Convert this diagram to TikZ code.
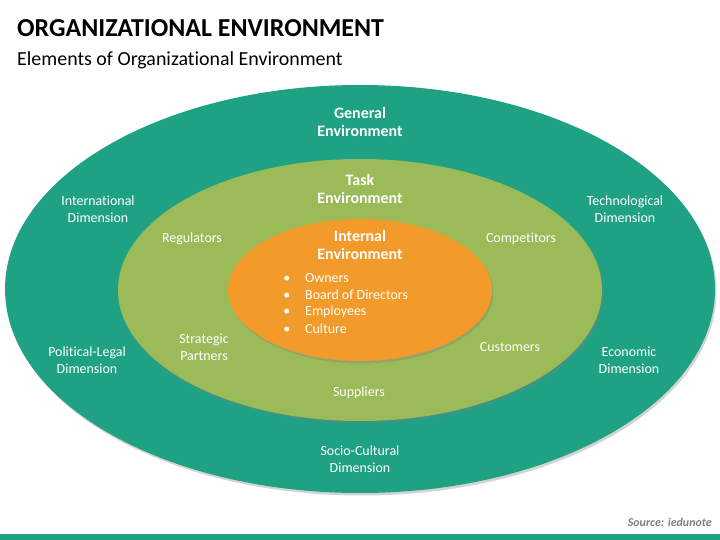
\documentclass[tikz,border=0pt]{standalone}
\usepackage{fontspec}
\setmainfont{Carlito}[Ligatures=NoCommon]
\usetikzlibrary{shapes.geometric,shadows}
\definecolor{envteal}{HTML}{1FA184}
\definecolor{envgreen}{HTML}{9BBB59}
\definecolor{envorange}{HTML}{F39B2A}
\definecolor{srcgray}{HTML}{7F7F7F}
\tikzset
 {ring/.style =                         % one filled ellipse of the diagram
   {ellipse, inner sep=0pt, draw=none, fill=#1,
    drop shadow = {opacity=0.35, shadow xshift=1.5pt, shadow yshift=-2.5pt}
   },
  label/.style =          % white text inside the rings, e.g. the dimensions
   {text=white, align=center, inner sep=0pt,
    font=\fontsize{14}{17}\selectfont},
  head/.style =                         % bold heading of each environment
   {label, font=\fontsize{16}{19}\selectfont\bfseries}
 }

\begin{document}
\begin{tikzpicture}[x=1bp, y=-1bp]
    \useasboundingbox (0,0) rectangle (720,540);
    \fill[envteal] (0,534) rectangle (720,540);
    % title
    \node[anchor=base west, inner sep=0pt, font=\fontsize{26}{30}\selectfont\bfseries]
        (title) at (17,37) {ORGANIZATIONAL ENVIRONMENT};
    \node[anchor=base west, inner sep=0pt, font=\fontsize{20}{24}\selectfont]
        (subtitle) at (17,66) {Elements of Organizational Environment};
    % the three rings
    \node[ring=envteal, minimum width=710bp, minimum height=408bp] (general) at (360,289) {};
    \node[ring=envgreen, minimum width=484bp, minimum height=262bp] (task) at (360,290) {};
    \node[ring=envorange, minimum width=264bp, minimum height=142bp] (internal) at (360,290) {};
    % headings
    \node[head] (generalhead) at (360,122) {General\\Environment};
    \node[head] (taskhead) at (360,189) {Task\\Environment};
    \node[head] (internalhead) at (360,245) {Internal\\Environment};
    \foreach \entry [count=\i] in {Owners, Board of Directors, Employees, Culture}
        \node[label, anchor=west] (entry\i) at (305,261+17*\i) {\llap{\textbullet\hspace{15pt}}\entry};
    % general environment
    \node[label] (international) at (98,209) {International\\Dimension};
    \node[label] (technological) at (625,209) {Technological\\Dimension};
    \node[label] (political) at (87,360) {Political-Legal\\Dimension};
    \node[label] (economic) at (629,360) {Economic\\Dimension};
    \node[label] (social) at (360,459) {Socio-Cultural\\Dimension};
    % task environment
    \node[label] (regulators) at (192,239) {Regulators};
    \node[label] (competitors) at (521,239) {Competitors};
    \node[label] (partners) at (204,347) {Strategic\\Partners};
    \node[label] (customers) at (510,347) {Customers};
    \node[label] (suppliers) at (359,393) {Suppliers};
    % source
    \node[anchor=east, inner sep=0pt, text=srcgray, font=\fontsize{12}{14}\selectfont\bfseries\itshape]
        (source) at (712,522) {Source: iedunote};
\end{tikzpicture}
\end{document}
